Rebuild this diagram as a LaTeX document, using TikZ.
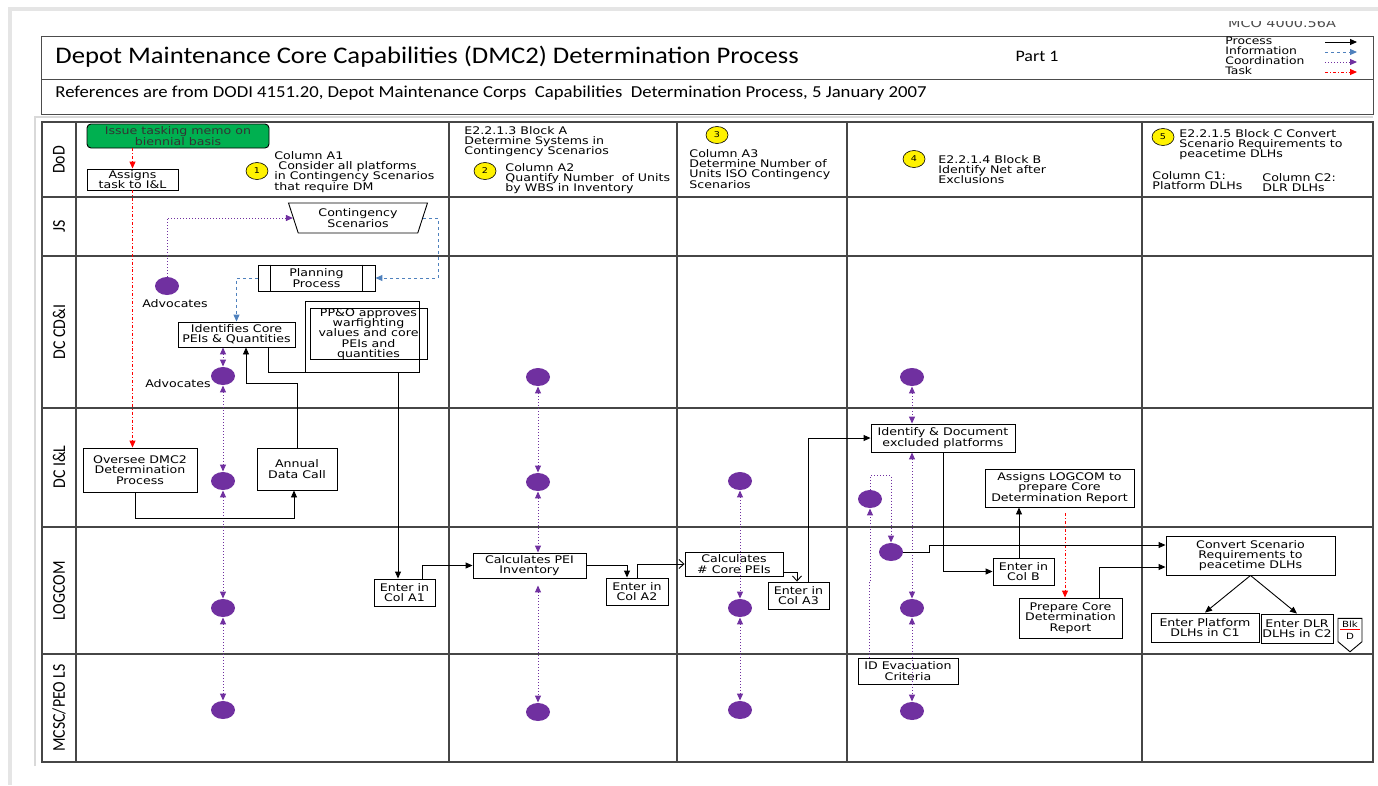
\documentclass[tikz,border=0pt]{standalone}
\usepackage{fontspec}
\setmainfont[FakeStretch=1.12]{Carlito}
\newfontfamily\boxfont[FakeStretch=1.2]{DejaVu Sans}
\newfontfamily\lanefont[FakeStretch=0.88]{Carlito}
\usetikzlibrary{arrows.meta,shapes.geometric,shapes.symbols}
\definecolor{vio}{RGB}{112,48,160}
\definecolor{infob}{RGB}{79,129,189}
\definecolor{memo}{RGB}{0,176,80}
\definecolor{rule}{RGB}{70,70,70}
\newcommand\bfs{\boxfont\fontsize{10.5}{10.2}\selectfont}

\begin{document}
\begin{tikzpicture}[x=1pt,y=-1pt,line width=0.9pt,>={Triangle[length=7pt,width=6pt]}]
    \tikzstyle{box}=[draw,align=center,inner sep=1pt,font=\bfs]
    \tikzstyle{note}=[align=left,anchor=north west,inner sep=0pt,font=\bfs]
    \tikzstyle{num}=[ellipse,draw,line width=0.6pt,fill=yellow,minimum width=22,minimum height=17,inner sep=0pt,font=\boxfont\fontsize{8}{9}\selectfont]
    \tikzstyle{pdot}=[ellipse,fill=vio,minimum width=24,minimum height=18,inner sep=0pt]
    \tikzstyle{lane}=[rotate=90,font=\lanefont\fontsize{18}{18}\selectfont]
    \tikzstyle{proc}=[->,black]
    \tikzstyle{info}=[->,dashed,infob,line width=1pt]
    \tikzstyle{coordline}=[<->,dotted,vio,line width=1pt]
    \tikzstyle{task}=[->,dash dot,red,line width=1pt]
    \tikzstyle{lanerule}=[rule,line width=1.2pt]
    \useasboundingbox (0,0) rectangle (1378,785);

    \draw[gray!20,line width=4pt] (10,785) -- (10,9) -- (1378,9);
    \draw[gray!60!black] (41,36) rectangle (1373,114) (41,79) -- (1373,79);
    \node[anchor=west,inner sep=0pt,font=\fontsize{23.8}{25}\selectfont] (title) at (55,57) {Depot Maintenance Core Capabilities (DMC2) Determination Process};
    \node[font=\fontsize{16}{17}\selectfont] (part) at (1037,56) {Part 1};
    \node[anchor=west,inner sep=0pt,font=\fontsize{16.7}{18}\selectfont] (refs) at (55,93) {References are from DODI 4151.20, Depot Maintenance Corps~ Capabilities~ Determination Process, 5 January 2007};
    \begin{scope}
        \clip (1200,21) rectangle (1373,34);
        \node[font=\boxfont\fontsize{12}{12}\selectfont,text=black!70] (mco) at (1282,23.5) {MCO 4000.56A};
    \end{scope}
    \node[note,font=\boxfont\fontsize{10.3}{10}\selectfont] (legend) at (1225,37) {Process\\Information\\Coordination\\Task};
    \foreach \y/\s [count=\i] in {42/proc,52/info,62/coordline,72/task} {
        \coordinate (ls\i) at (1325,\y);
        \coordinate (le\i) at (1357,\y);
        \draw[\s,->] (ls\i) -- (le\i);
    }

    \draw[gray!30,line width=2pt] (35,766) -- (35,117) -- (1373,117);
    \draw[lanerule] (42,122) rectangle (1373,762);
    \foreach \y in {197,256,408,527,654} \draw[lanerule] (42,\y) -- (1373,\y);
    \foreach \x in {76,449,677,847,1142} \draw[lanerule] (\x,122) -- (\x,762);
    \foreach \y/\t in {160/DoD,226/JS,332/DC CD\&I,467/DC I\&L,591/LOGCOM,708/{MCSC/PEO LS}}
        \node[lane] (lane\y) at (59,\y) {\t};

    \node[num] (n1) at (257,171) {1};
    \node[note] (colA1) at (274,151) {Column A1\\\ Consider all platforms\\in Contingency Scenarios\\that require DM};
    \node[note] (blkA) at (464,126) {E2.2.1.3 Block A\\Determine Systems in\\Contingency Scenarios};
    \node[num] (n2) at (485,171) {2};
    \node[note] (colA2) at (505,163) {Column A2\\Quantify Number~ of Units\\by WBS in Inventory};
    \node[num] (n3) at (717,135) {3};
    \node[note] (colA3) at (689,149) {Column A3\\Determine Number of\\Units ISO Contingency\\Scenarios};
    \node[num] (n4) at (914,159) {4};
    \node[note] (blkB) at (938,155) {E2.2.1.4 Block B\\Identify Net after\\Exclusions};
    \node[num] (n5) at (1163,137) {5};
    \node[note] (blkC) at (1179,129) {E2.2.1.5 Block C Convert\\Scenario Requirements to\\peacetime DLHs};
    \node[note] (colC1) at (1152,171) {Column C1:\\Platform DLHs};
    \node[note] (colC2) at (1262,173) {Column C2:\\DLR DLHs};

    \node[box,fill=memo,rounded corners=4pt,minimum width=182,minimum height=24,text=black!80] (memo) at (178,136) {Issue tasking memo on\\biennial basis};
    \node[box,minimum width=91,minimum height=21,inner sep=0pt] (assign) at (132.5,179.5) {Assigns\\task to I\&L};
    \node[trapezium,draw,shape border rotate=180,trapezium left angle=72,trapezium right angle=72,minimum width=137,minimum height=30,inner sep=1pt,align=center,font=\bfs] (scen) at (358,218) {Contingency\\Scenarios};
    \node[box,minimum width=117,minimum height=26] (plan) at (316.5,278) {Planning\\Process};
    \node[pdot] (adv1) at (167,286) {};
    \node[font=\bfs] (advlab1) at (175,304) {Advocates};
    \node[box,minimum width=117,minimum height=25] (idc) at (236.5,334.5) {Identifies Core\\PEIs \& Quantities};
    \draw (305,301) rectangle (419,372);
    \node[box,minimum width=117,minimum height=48,inner sep=0pt] (ppo) at (368.5,334) {PP\&O approves\\warfighting\\values and core\\PEIs and\\quantities};
    \node[pdot] (adv2) at (223,376) {};
    \node[font=\bfs] (advlab2) at (178,384) {Advocates};
    \node[box,minimum width=114,minimum height=44] (ovs) at (140,470) {Oversee DMC2\\Determination\\Process};
    \node[box,minimum width=80,minimum height=42] (adc) at (297,469) {Annual\\Data Call};
    \node[box,minimum width=61,minimum height=27] (ea1) at (404.5,592.5) {Enter in\\Col A1};
    \node[box,minimum width=113,minimum height=25] (cpi) at (529.5,565.5) {Calculates PEI\\Inventory};
    \node[box,minimum width=62,minimum height=27] (ea2) at (637,591.5) {Enter in\\Col A2};
    \node[box,minimum width=98,minimum height=24] (ccp) at (734,564) {Calculates\\\# Core PEIs};
    \node[box,minimum width=61,minimum height=27] (ea3) at (798.5,595.5) {Enter in\\Col A3};
    \node[box,minimum width=144,minimum height=28] (idd) at (943,438) {Identify \& Document\\excluded platforms};
    \node[box,minimum width=149,minimum height=38] (alg) at (1059.5,488) {Assigns LOGCOM to\\prepare Core\\Determination Report};
    \node[box,minimum width=61,minimum height=27] (ecb) at (1023.5,571.5) {Enter in\\Col B};
    \node[box,minimum width=103,minimum height=40] (pcr) at (1070.5,618) {Prepare Core\\Determination\\Report};
    \node[box,minimum width=169,minimum height=39] (csr) at (1250.5,555.5) {Convert Scenario\\Requirements to\\peacetime DLHs};
    \node[box,minimum width=108,minimum height=29] (epl) at (1205,627.5) {Enter Platform\\DLHs in C1};
    \node[box,minimum width=72,minimum height=29,inner sep=0pt] (edl) at (1297,628.5) {Enter DLR\\DLHs in C2};
    \node[box,minimum width=100,minimum height=26] (idv) at (908,671) {ID Evacuation\\Criteria};
    \node[signal,signal to=south,signal pointer angle=100,draw,minimum width=24,minimum height=30,inner sep=0pt,align=center,font=\boxfont\fontsize{8.5}{12}\selectfont] (blkd) at (1350,630) {Blk\\D};
    \draw[red,line width=0.5pt] (1340,629) -- (1360,629);

    \foreach \n/\x/\y in {c12/223/481,c13/223/608,c14/223/710,c21/538/377,c22/538/482,c24/538/712,
        c31/740/481,c32/740/608,c33/740/710,c41/912/377,c43/912/608,c44/912/711,c45/870/499,c46/891/552}
        \node[pdot] (\n) at (\x,\y) {};

    \draw[task] (memo.south -| assign) -- (assign.north);
    \draw[task] (assign.south) -- (assign.south |- ovs.north);
    \draw[task] ([xshift=5.5pt]alg.south) ++(0,6) -- ([xshift=-5.5pt]pcr.north);
    \draw[coordline,->] (adv1.north) |- (scen.west);
    \draw[info] (scen.east) -- ++(15,0) |- (plan.east);
    \draw (plan.north west) ++(13,0) -- ++(0,26) (plan.north east) ++(-13,0) -- ++(0,26);
    \draw[info] (plan.west) -| (idc.north);
    \draw[coordline] (idc.south -| adv2) -- (adv2.north);
    \draw[coordline] (adv2) -- (c12);
    \draw[coordline] (c12) -- (c13);
    \draw[coordline] (c13) -- (c14);
    \draw[coordline] (c21) -- (c22);
    \draw[coordline] (c22) -- (c22 |- cpi.north);
    \draw[coordline,shorten <=7pt] (c24 |- cpi.south) -- (c24);
    \draw[coordline] (c31) -- (c32);
    \draw[coordline] (c32) -- (c33);
    \draw[coordline] (c41) -- (c41 |- idd.north);
    \draw[coordline] (c43 |- idd.south) -- (c43);
    \draw[coordline] (c43) -- (c44);
    \draw[coordline,->] ([xshift=-39pt]idv.north) -- ++(0,-75) -| (c45.south);
    \draw[coordline,->] (c45.north) -- ++(0,-14) -| (c46.north);

    \draw[proc] ([xshift=-5pt]ovs.south) -- ++(0,26) -| ([xshift=-3pt]adc.south);
    \draw[proc] (adc.north) -- ++(0,-64) -| ([xshift=9.5pt]idc.south);
    \draw[proc] ([xshift=31.5pt]idc.south) -- ++(0,25) -| ([xshift=-6.5pt]ea1.north);
    \draw[proc] ([xshift=17.5pt]ea1.north) |- (cpi.west);
    \draw[proc] (cpi.east) -| ([xshift=-10pt]ea2.north);
    \draw[-{Straight Barb[length=5pt,width=9pt]}] (ea2.north) |- (ccp.west);
    \draw[-{Straight Barb[length=5pt,width=9pt]}] ([yshift=-8pt]ccp.east) -| ([xshift=-1.5pt]ea3.north);
    \draw[proc] ([xshift=9.5pt]ea3.north) |- (idd.west);
    \draw[proc] (idd.south) |- (ecb.west);
    \draw[proc] ([xshift=-4.5pt]ecb.north) -- ([xshift=-4.5pt]ecb.north |- alg.south);
    \draw[proc] ([xshift=28.5pt]pcr.north) |- ([yshift=-11.5pt]csr.west);
    \draw[proc] (c46.east) -- ++(26,0) |- ([yshift=10.5pt]csr.west);
    \draw[proc] (csr.south) -- (epl.north);
    \draw[proc] (csr.south) -- (edl.north);
\end{tikzpicture}
\end{document}
